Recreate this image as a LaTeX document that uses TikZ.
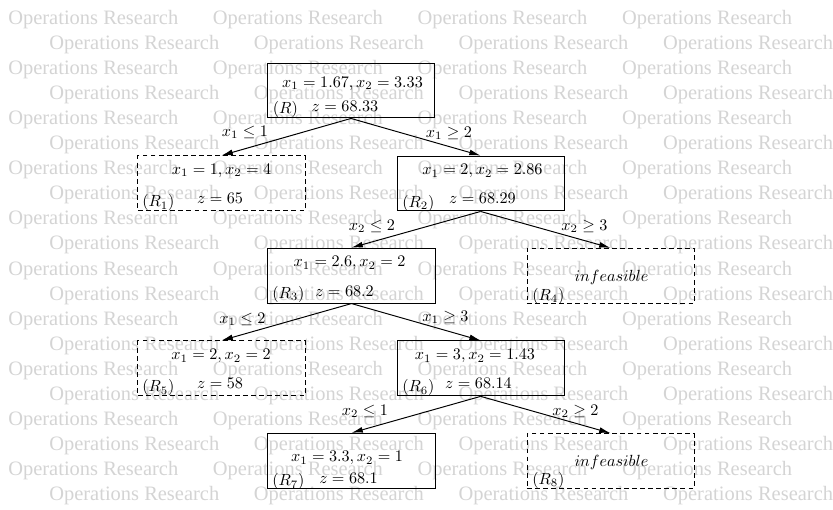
\documentclass[tikz,border=0pt]{standalone}
\usepackage{fontspec}
\newfontfamily\wmfont{Liberation Serif}
\usetikzlibrary{arrows.meta}
\tikzset{
  wm/.style={inner sep=0pt, text=black!17, font=\wmfont\fontsize{12.67}{14}\selectfont, anchor=base west},
  nodebox/.style={draw, line width=0.6pt, minimum width=103.4pt, minimum height=34pt, inner sep=0pt},
  solidbox/.style={nodebox},
  prunedbox/.style={nodebox, dash pattern=on 3pt off 2pt},
  arr/.style={line width=0.6pt, -{Latex[length=7pt,width=3.6pt]}},
  txt/.style={inner sep=0pt, anchor=base},
  tag/.style={inner sep=0pt, anchor=base west},
  lbl/.style={inner sep=0pt, anchor=base},
}
\begin{document}
\begin{tikzpicture}[x=0.619pt,y=-0.619pt]
\useasboundingbox (0,0) rectangle (833,509);
% watermark
\foreach \r in {1,...,20}{
  \pgfmathsetmacro\xo{mod(\r,2)==1 ? 8 : 49}
  \foreach \k in {0,...,3}{
    \node[wm] (wm-\r-\k) at ({\xo+204.6*\k},{24+25.1*(\r-1)}) {Operations Research};
  }
}
% boxes
\node[solidbox]  (R)  at (351,90.5) {};
\node[prunedbox] (R1) at (221.5,183.4) {};
\node[solidbox]  (R2) at (480.6,183.5) {};
\node[solidbox]  (R3) at (351.5,275.6) {};
\node[prunedbox] (R4) at (610.5,275.8) {};
\node[prunedbox] (R5) at (221.5,368.4) {};
\node[solidbox]  (R6) at (480.7,368.4) {};
\node[solidbox]  (R7) at (351.5,460.8) {};
\node[prunedbox] (R8) at (610.5,461.1) {};
% texts in boxes
\node[txt] (tR)  at (352.5,87.5) {$x_1 = 1.67, x_2 = 3.33$};
\node[tag] (gR)  at (272.5,113) {$(R)$};
\node[txt] (zR)  at (345,111.7) {$z = 68.33$};
\node[txt] (tR1) at (221.5,174.5) {$x_1 = 1, x_2 = 4$};
\node[tag] (gR1) at (142,206.8) {$(R_1)$};
\node[txt] (zR1) at (220,203.4) {$z = 65$};
\node[txt] (tR2) at (482.5,174.6) {$x_1 = 2, x_2 = 2.86$};
\node[tag] (gR2) at (402,207) {$(R_2)$};
\node[txt] (zR2) at (482.5,203.5) {$z = 68.29$};
\node[txt] (tR3) at (349.5,266.9) {$x_1 = 2.6, x_2 = 2$};
\node[tag] (gR3) at (272,298.5) {$(R_3)$};
\node[txt] (zR3) at (344.5,296.2) {$z = 68.2$};
\node[txt] (tR4) at (611.5,281) {$infeasible$};
\node[tag] (gR4) at (532,300.2) {$(R_4)$};
\node[txt] (tR5) at (221,359.8) {$x_1 = 2, x_2 = 2$};
\node[tag] (gR5) at (142,391.8) {$(R_5)$};
\node[txt] (zR5) at (220,388.5) {$z = 58$};
\node[txt] (tR6) at (475,359.8) {$x_1 = 3, x_2 = 1.43$};
\node[tag] (gR6) at (402,391.8) {$(R_6)$};
\node[txt] (zR6) at (478.5,388.5) {$z = 68.14$};
\node[txt] (tR7) at (347,461.7) {$x_1 = 3.3, x_2 = 1$};
\node[tag] (gR7) at (272,485.8) {$(R_7)$};
\node[txt] (zR7) at (348.5,483.3) {$z = 68.1$};
\node[txt] (tR8) at (611.5,466.5) {$infeasible$};
\node[tag] (gR8) at (532,484.5) {$(R_8)$};
% connectors
\draw[arr] (R.south) -- (R1.north);
\draw[arr] (R.south) -- (R2.north);
\draw[arr] (R2.south) -- (R3.north);
\draw[arr] (R2.south) -- (R4.north);
\draw[arr] (R3.south) -- (R5.north);
\draw[arr] (R3.south) -- (R6.north);
\draw[arr] (R6.south) -- (R7.north);
\draw[arr] (R6.south) -- (R8.north);
% branch labels
\node[lbl] (b1) at (245,136.5) {$x_1 \le 1$};
\node[lbl] (b2) at (449,137) {$x_1 \ge 2$};
\node[lbl] (b3) at (372,230) {$x_2 \le 2$};
\node[lbl] (b4) at (584.5,230) {$x_2 \ge 3$};
\node[lbl] (b5) at (242.5,323.3) {$x_1 \le 2$};
\node[lbl] (b6) at (445.5,321.5) {$x_1 \ge 3$};
\node[lbl] (b7) at (365,415) {$x_2 \le 1$};
\node[lbl] (b8) at (575.5,415) {$x_2 \ge 2$};
\end{tikzpicture}
\end{document}
